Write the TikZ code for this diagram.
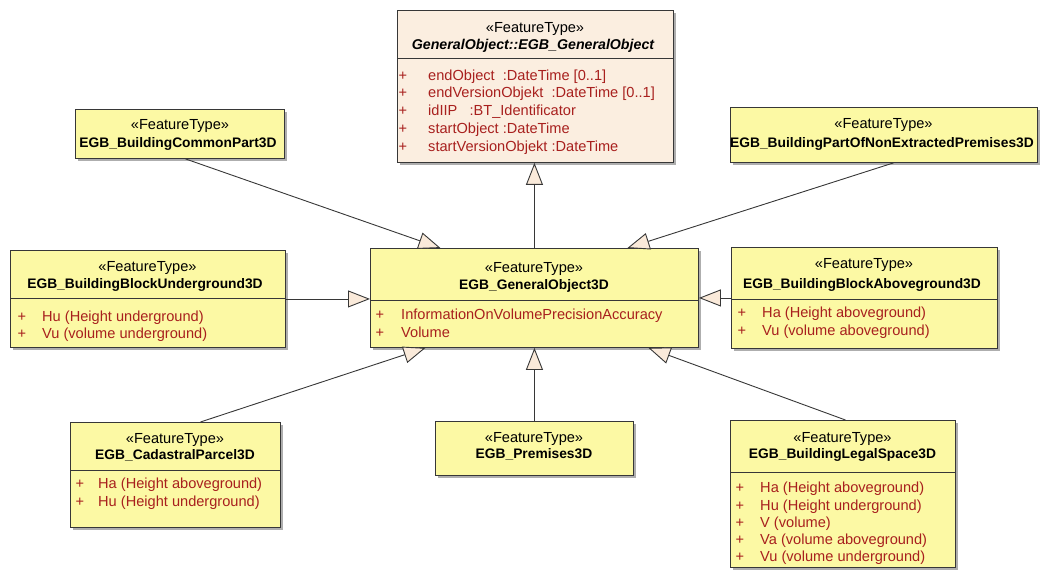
\documentclass[tikz,border=0pt]{standalone}
\usepackage{fontspec}
\setmainfont{Liberation Sans}
\usetikzlibrary{arrows.meta,shadows}
\definecolor{classfill}{RGB}{252,249,164}
\definecolor{basefill}{RGB}{251,238,224}
\definecolor{edgecol}{RGB}{55,55,55}
\definecolor{attrcol}{RGB}{168,32,30}
\definecolor{headfill}{RGB}{250,234,218}
\tikzset{
  classbox/.style={draw=edgecol, line width=0.9pt, anchor=north west, inner sep=0pt,
    drop shadow={shadow xshift=3pt, shadow yshift=-3pt, fill=black!45, opacity=0.7}},
  stereo/.style={anchor=base, inner sep=0pt, font=\fontsize{14.6}{17}\selectfont},
  cname/.style={anchor=base, inner sep=0pt, font=\fontsize{13.8}{16}\selectfont\bfseries},
  plus/.style={anchor=base, inner sep=0pt, text=attrcol, font=\fontsize{14.6}{17}\selectfont},
  attr/.style={anchor=base west, inner sep=0pt, text=attrcol, font=\fontsize{14.6}{17}\selectfont},
  divider/.style={draw=edgecol, line width=0.8pt},
  gen/.style={draw=edgecol, line width=0.9pt, -{Triangle[length=22pt,width=17pt,fill=headfill]}},
}
\begin{document}
\begin{tikzpicture}[x=1pt,y=-1pt]
\useasboundingbox (0,0) rectangle (1046,572);

% ---------- class boxes ----------
\node[classbox, fill=basefill, minimum width=276pt, minimum height=152pt] (go) at (397,10) {};
\node[classbox, fill=classfill, minimum width=209pt, minimum height=49pt] (cp) at (75,109) {};
\node[classbox, fill=classfill, minimum width=307pt, minimum height=55pt] (ne) at (730,107) {};
\node[classbox, fill=classfill, minimum width=275pt, minimum height=97pt] (bu) at (10,250) {};
\node[classbox, fill=classfill, minimum width=328pt, minimum height=99pt] (g3) at (370,248) {};
\node[classbox, fill=classfill, minimum width=266pt, minimum height=101pt] (ba) at (731,247) {};
\node[classbox, fill=classfill, minimum width=210pt, minimum height=105pt] (cpar) at (70,422) {};
\node[classbox, fill=classfill, minimum width=198pt, minimum height=54pt] (pr) at (435,421) {};
\node[classbox, fill=classfill, minimum width=225pt, minimum height=147pt] (ls) at (730,420) {};

% ---------- compartment dividers ----------
\draw[divider] ([yshift=-48pt]go.north west) -- ([yshift=-48pt]go.north east);
\draw[divider] ([yshift=-48pt]bu.north west) -- ([yshift=-48pt]bu.north east);
\draw[divider] ([yshift=-52pt]g3.north west) -- ([yshift=-52pt]g3.north east);
\draw[divider] ([yshift=-52pt]ba.north west) -- ([yshift=-52pt]ba.north east);
\draw[divider] ([yshift=-48pt]cpar.north west) -- ([yshift=-48pt]cpar.north east);
\draw[divider] ([yshift=-52pt]ls.north west) -- ([yshift=-52pt]ls.north east);

% ---------- GeneralObject::EGB_GeneralObject ----------
\node[stereo] (go-st) at (535,33) {«FeatureType»};
\node[cname, font=\fontsize{14.2}{16}\selectfont\bfseries\itshape] (go-nm) at (533,50) {GeneralObject::EGB\_GeneralObject};
\node[plus] (go-p1) at (403,81) {+};
\node[plus] (go-p2) at (403,98) {+};
\node[plus] (go-p3) at (403,116) {+};
\node[plus] (go-p4) at (403,134) {+};
\node[plus] (go-p5) at (403,152) {+};
\node[attr] (go-a1) at (428,81) {endObject\ \ :DateTime [0..1]};
\node[attr] (go-a2) at (428,98) {endVersionObjekt\ \ :DateTime [0..1]};
\node[attr] (go-a3) at (428,116) {idIIP\ \ \ :BT\_Identificator};
\node[attr] (go-a4) at (428,134) {startObject :DateTime};
\node[attr] (go-a5) at (428,152) {startVersionObjekt :DateTime};

% ---------- EGB_BuildingCommonPart3D ----------
\node[stereo] (cp-st) at (180,130) {«FeatureType»};
\node[cname] (cp-nm) at (178,148) {EGB\_BuildingCommonPart3D};

% ---------- EGB_BuildingPartOfNonExtractedPremises3D ----------
\node[stereo] (ne-st) at (883.5,129) {«FeatureType»};
\node[cname] (ne-nm) at (882,148) {EGB\_BuildingPartOfNonExtractedPremises3D};

% ---------- EGB_BuildingBlockUnderground3D ----------
\node[stereo] (bu-st) at (147.5,271) {«FeatureType»};
\node[cname] (bu-nm) at (145,288) {EGB\_BuildingBlockUnderground3D};
\node[plus] (bu-p1) at (22,321) {+};
\node[plus] (bu-p2) at (22,338) {+};
\node[attr] (bu-a1) at (42,321) {Hu (Height underground)};
\node[attr] (bu-a2) at (42,338) {Vu (volume underground)};

% ---------- EGB_GeneralObject3D ----------
\node[stereo] (g3-st) at (534,272) {«FeatureType»};
\node[cname] (g3-nm) at (534,289) {EGB\_GeneralObject3D};
\node[plus] (g3-p1) at (380,319) {+};
\node[plus] (g3-p2) at (380,337) {+};
\node[attr] (g3-a1) at (401,319) {InformationOnVolumePrecisionAccuracy};
\node[attr] (g3-a2) at (401,337) {Volume};

% ---------- EGB_BuildingBlockAboveground3D ----------
\node[stereo] (ba-st) at (864,268) {«FeatureType»};
\node[cname] (ba-nm) at (862,288) {EGB\_BuildingBlockAboveground3D};
\node[plus] (ba-p1) at (742,317) {+};
\node[plus] (ba-p2) at (742,335) {+};
\node[attr] (ba-a1) at (762,317) {Ha (Height aboveground)};
\node[attr] (ba-a2) at (762,335) {Vu (volume aboveground)};

% ---------- EGB_CadastralParcel3D ----------
\node[stereo] (cpar-st) at (175,443) {«FeatureType»};
\node[cname] (cpar-nm) at (175,459) {EGB\_CadastralParcel3D};
\node[plus] (cpar-p1) at (80,488) {+};
\node[plus] (cpar-p2) at (80,506) {+};
\node[attr] (cpar-a1) at (98,488) {Ha (Height aboveground)};
\node[attr] (cpar-a2) at (98,506) {Hu (Height underground)};

% ---------- EGB_Premises3D ----------
\node[stereo] (pr-st) at (534,442) {«FeatureType»};
\node[cname] (pr-nm) at (534,458) {EGB\_Premises3D};

% ---------- EGB_BuildingLegalSpace3D ----------
\node[stereo] (ls-st) at (842.5,442) {«FeatureType»};
\node[cname] (ls-nm) at (842.5,458) {EGB\_BuildingLegalSpace3D};
\node[plus] (ls-p1) at (740,492) {+};
\node[plus] (ls-p2) at (740,510) {+};
\node[plus] (ls-p3) at (740,527) {+};
\node[plus] (ls-p4) at (740,544) {+};
\node[plus] (ls-p5) at (740,561) {+};
\node[attr] (ls-a1) at (760,492) {Ha (Height aboveground)};
\node[attr] (ls-a2) at (760,510) {Hu (Height underground)};
\node[attr] (ls-a3) at (760,527) {V\ (volume)};
\node[attr] (ls-a4) at (760,544) {Va (volume aboveground)};
\node[attr] (ls-a5) at (760,561) {Vu (volume underground)};

% ---------- generalisations ----------
\draw[gen] (g3.north) -- ([xshift=-1pt]go.south);
\draw[gen] ([xshift=5.5pt]cp.south) -- ([xshift=-94pt]g3.north);
\draw[gen] ([xshift=9.5pt]ne.south) -- ([xshift=93pt]g3.north);
\draw[gen] (bu.east) -- (bu.east -| g3.west);
\draw[gen] (ba.west) -- (ba.west -| g3.east);
\draw[gen] ([xshift=25pt]cpar.north) -- ([xshift=-109pt]g3.south);
\draw[gen] (pr.north) -- (pr.north |- g3.south);
\draw[gen] ([xshift=2.5pt]ls.north) -- ([xshift=114pt]g3.south);
\end{tikzpicture}
\end{document}
